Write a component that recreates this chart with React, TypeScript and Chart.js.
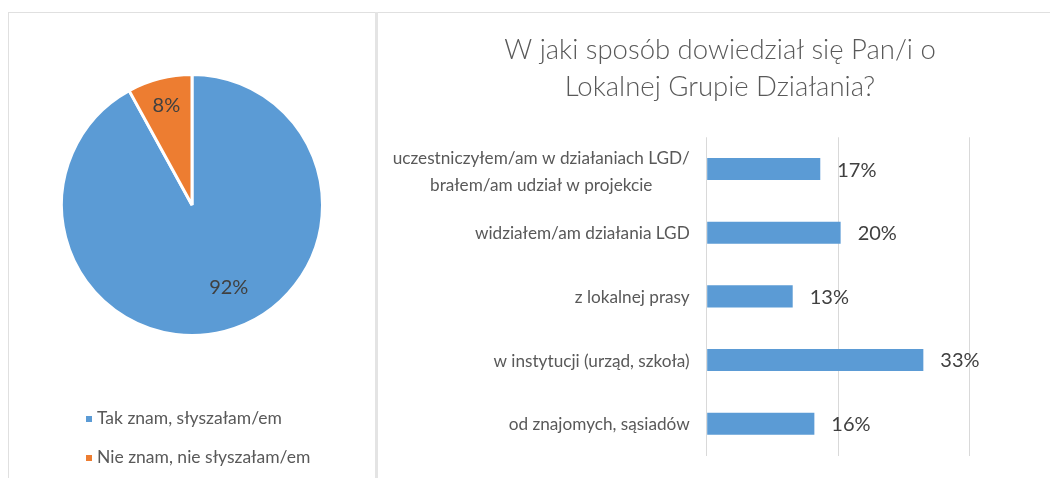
import React, { useEffect, useRef } from "react";
import { Chart, registerables } from "chart.js";

Chart.register(...registerables);

// ---------- data ----------
const pieLabels = ["Tak znam, słyszałam/em", "Nie znam, nie słyszałam/em"];
const pieValues = [0.92, 0.08];
const pieColors = ["#5B9BD5", "#ED7D31"];

const barTitle = ["W jaki sposób dowiedział się Pan/i o", "Lokalnej Grupie Działania?"];
const barCategories = [
  ["uczestniczyłem/am w działaniach LGD/", "brałem/am udział w projekcie"],
  ["widziałem/am działania LGD"],
  ["z lokalnej prasy"],
  ["w instytucji (urząd, szkoła)"],
  ["od znajomych, sąsiadów"],
];
const barValues = [0.173, 0.204, 0.131, 0.33, 0.164];
const xAxisMin = 0;
const xAxisMax = 0.4;
const xAxisStep = 0.2;

// ---------- styles ----------
const FONT = "Lato, 'Open Sans', 'DejaVu Sans', sans-serif";
const LABEL_COLOR = "#404040";
const TEXT_COLOR = "#595959";
const BORDER_COLOR = "#e0e0e0";

const pct = (v: number) => Math.round(v * 100) + "%";

const pieExtras = {
  id: "pieExtras",
  afterDatasetsDraw(chart: any, _args: any, opts: any) {
    const ctx = chart.ctx;
    const meta = chart.getDatasetMeta(0);
    const ds = chart.data.datasets[0];
    ctx.save();
    ctx.font = `20px ${FONT}`;
    ctx.fillStyle = LABEL_COLOR;
    ctx.textAlign = "center";
    ctx.textBaseline = "middle";
    meta.data.forEach((arc: any, i: number) => {
      const p = arc.getProps(["x", "y", "startAngle", "endAngle", "outerRadius"], true);
      const mid = (p.startAngle + p.endAngle) / 2 + ((opts.angleShift[i] || 0) * Math.PI) / 180;
      const r = p.outerRadius * opts.radial[i];
      ctx.fillText(pct(ds.data[i]), p.x + r * Math.cos(mid), p.y + r * Math.sin(mid));
    });
    // legend
    ctx.textAlign = "left";
    ctx.font = `17.5px ${FONT}`;
    chart.data.labels.forEach((lab: string, i: number) => {
      const y = opts.legendTop + i * opts.legendGap;
      ctx.fillStyle = ds.backgroundColor[i];
      ctx.fillRect(opts.legendX, y - 2, 6, 6);
      ctx.fillStyle = TEXT_COLOR;
      ctx.fillText(lab, opts.legendX + 11, y);
    });
    ctx.restore();
  },
};

const barExtras = {
  id: "barExtras",
  afterDatasetsDraw(chart: any, _args: any, opts: any) {
    const ctx = chart.ctx;
    const meta = chart.getDatasetMeta(0);
    const ds = chart.data.datasets[0];
    const xs = chart.scales.x;
    const ys = chart.scales.y;
    ctx.save();
    ctx.textBaseline = "middle";
    // value labels
    ctx.font = `20px ${FONT}`;
    ctx.fillStyle = LABEL_COLOR;
    ctx.textAlign = "left";
    meta.data.forEach((bar: any, i: number) => {
      const p = bar.getProps(["x", "y"], true);
      ctx.fillText(pct(ds.data[i]), p.x + opts.valueGap, p.y + 1);
    });
    // category labels
    ctx.font = `17.2px ${FONT}`;
    ctx.fillStyle = TEXT_COLOR;
    ctx.textAlign = "center";
    const right = xs.getPixelForValue(xAxisMin) - opts.labelGap;
    chart.data.labels.forEach((lines: string[], i: number) => {
      const cy = ys.getPixelForValue(i);
      const maxW = Math.max(...lines.map((l) => ctx.measureText(l).width));
      const cx = right - maxW / 2;
      lines.forEach((l, j) => {
        ctx.fillText(
          l,
          cx,
          cy + (j - (lines.length - 1) / 2) * opts.lineHeight + opts.labelShift * (lines.length - 1) + 1
        );
      });
    });
    ctx.restore();
  },
};

function PieChart() {
  const ref = useRef<HTMLCanvasElement | null>(null);
  useEffect(() => {
    if (!ref.current) return;
    const chart = new Chart(ref.current, {
      type: "pie",
      data: {
        labels: pieLabels,
        datasets: [
          {
            data: pieValues,
            backgroundColor: pieColors,
            borderColor: "#ffffff",
            borderWidth: 3,
            radius: 130.5,
          } as any,
        ],
      },
      options: {
        responsive: false,
        animation: false,
        events: [],
        layout: { padding: { top: 0, bottom: 81, left: 0, right: 0 } },
        plugins: {
          legend: { display: false },
          tooltip: { enabled: false },
          pieExtras: {
            radial: [0.695, 0.79],
            angleShift: [-9.5, 0],
            legendX: 77,
            legendTop: 405,
            legendGap: 39,
          },
        } as any,
      },
      plugins: [pieExtras],
    });
    return () => chart.destroy();
  }, []);
  return (
    <canvas
      ref={ref}
      width={366}
      height={465}
      style={{ position: "absolute", left: 9, top: 13, width: 366, height: 465 }}
    />
  );
}

function BarChart() {
  const ref = useRef<HTMLCanvasElement | null>(null);
  useEffect(() => {
    if (!ref.current) return;
    const chart = new Chart(ref.current, {
      type: "bar",
      data: {
        labels: barCategories as any,
        datasets: [
          {
            data: barValues,
            backgroundColor: "#5B9BD5",
            borderWidth: 0,
            categoryPercentage: 1,
            barPercentage: 0.346,
          },
        ],
      },
      options: {
        indexAxis: "y",
        responsive: false,
        animation: false,
        events: [],
        layout: { padding: { left: 0, right: 0, bottom: 22.5, top: 0 } },
        scales: {
          x: {
            min: xAxisMin,
            max: xAxisMax,
            ticks: { display: false, stepSize: xAxisStep },
            grid: { color: "#d9d9d9", drawTicks: false, lineWidth: 1 },
            border: { display: false },
          },
          y: {
            position: "left",
            ticks: { display: false },
            grid: { display: false, drawTicks: false },
            border: { display: false },
            afterFit: (scale: any) => {
              scale.width = 328.7;
            },
          },
          yRight: {
            type: "category",
            position: "right",
            labels: barCategories as any,
            ticks: { display: false },
            grid: { display: false, drawTicks: false },
            border: { display: false },
            afterFit: (scale: any) => {
              scale.width = 92.7;
            },
          },
        } as any,
        plugins: {
          legend: { display: false },
          tooltip: { enabled: false },
          title: {
            display: true,
            text: barTitle,
            color: TEXT_COLOR,
            font: { family: FONT, size: 27.5, weight: "300", lineHeight: 1.364 },
            padding: { top: 18.25, bottom: 31 },
          },
          barExtras: { valueGap: 17, labelGap: 17, lineHeight: 27, labelShift: 1.5 },
        } as any,
      },
      plugins: [barExtras],
    });
    return () => chart.destroy();
  }, []);
  return (
    <canvas
      ref={ref}
      width={684}
      height={465}
      style={{ position: "absolute", left: 378, top: 13, width: 684, height: 465 }}
    />
  );
}

export default function App() {
  return (
    <div
      style={{
        position: "absolute",
        left: 0,
        top: 0,
        width: 1050,
        height: 478,
        overflow: "hidden",
        background: "#ffffff",
      }}
    >
      <div style={{ position: "absolute", left: 8, top: 12, width: 1042, height: 1, background: BORDER_COLOR }} />
      <div style={{ position: "absolute", left: 8, top: 12, width: 1, height: 466, background: BORDER_COLOR }} />
      <div style={{ position: "absolute", left: 375, top: 12, width: 3, height: 466, background: "#e4e4e4" }} />
      <PieChart />
      <BarChart />
    </div>
  );
}
